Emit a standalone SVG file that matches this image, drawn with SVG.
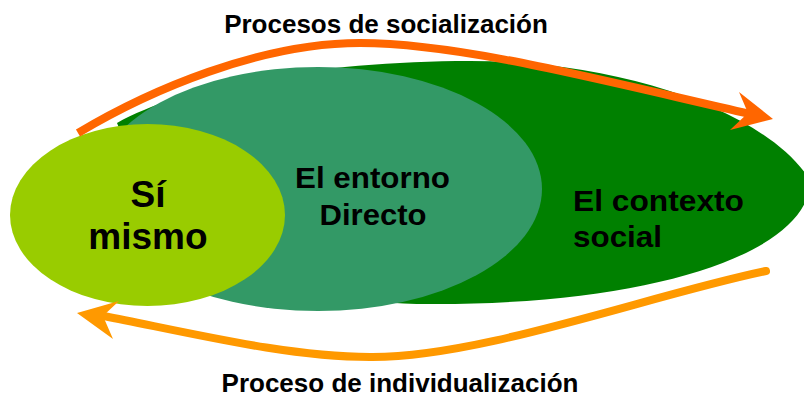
<svg xmlns="http://www.w3.org/2000/svg" width="804" height="397" viewBox="0 0 804 397">
  <style>
    .lbl { font-family: "Liberation Sans", Arial, sans-serif; font-weight: bold; fill: #000; }
    .title { font-size: 26px; text-anchor: middle; }
    .inner { font-size: 29px; }
    .self { font-size: 37px; text-anchor: middle; }
    .arr { fill: none; stroke-width: 8; }
  </style>
  <rect width="804" height="397" fill="#ffffff"/>
  <g id="contexto-social">
    <path d="M117,123 C185,84 330,61 470,61 C620,61 765,110 810,180 C812,250 660,305 430,304 C250,304 160,230 117,123 Z" fill="#008000"/>
    <text class="lbl inner" x="573" y="211" textLength="171" lengthAdjust="spacingAndGlyphs">El contexto</text>
    <text class="lbl inner" x="573" y="247" textLength="89" lengthAdjust="spacingAndGlyphs">social</text>
  </g>
  <g id="entorno-directo">
    <ellipse cx="318" cy="189" rx="224" ry="122" fill="#339966"/>
    <text class="lbl inner" x="295" y="188" textLength="155" lengthAdjust="spacingAndGlyphs">El entorno</text>
    <text class="lbl inner" x="319.5" y="225" textLength="107" lengthAdjust="spacingAndGlyphs">Directo</text>
  </g>
  <g id="si-mismo">
    <ellipse cx="147.5" cy="215" rx="137.5" ry="91" fill="#99CC00"/>
    <text class="lbl self" x="148" y="207">Sí</text>
    <text class="lbl self" x="148" y="249">mismo</text>
  </g>
  <g id="connectors">
    <g id="socializacion">
      <path class="arr" stroke="#FF6600" d="M78,133 C150,90 260,43 360,43 C460,43 600,80 750,114"/>
      <polygon fill="#FF6600" points="739,92 773,119 730,130 748,113"/>
    </g>
    <g id="individualizacion">
      <path class="arr" stroke="#FF9900" stroke-linecap="round" d="M766,271 C650,295 480,358 370,357 C290,357 200,335 104,316"/>
      <polygon fill="#FF9900" points="119,301 77,313 113,339 103,316"/>
    </g>
    <text class="lbl title" x="386" y="33">Procesos de socialización</text>
    <text class="lbl title" x="400" y="392">Proceso de individualización</text>
  </g>
</svg>
